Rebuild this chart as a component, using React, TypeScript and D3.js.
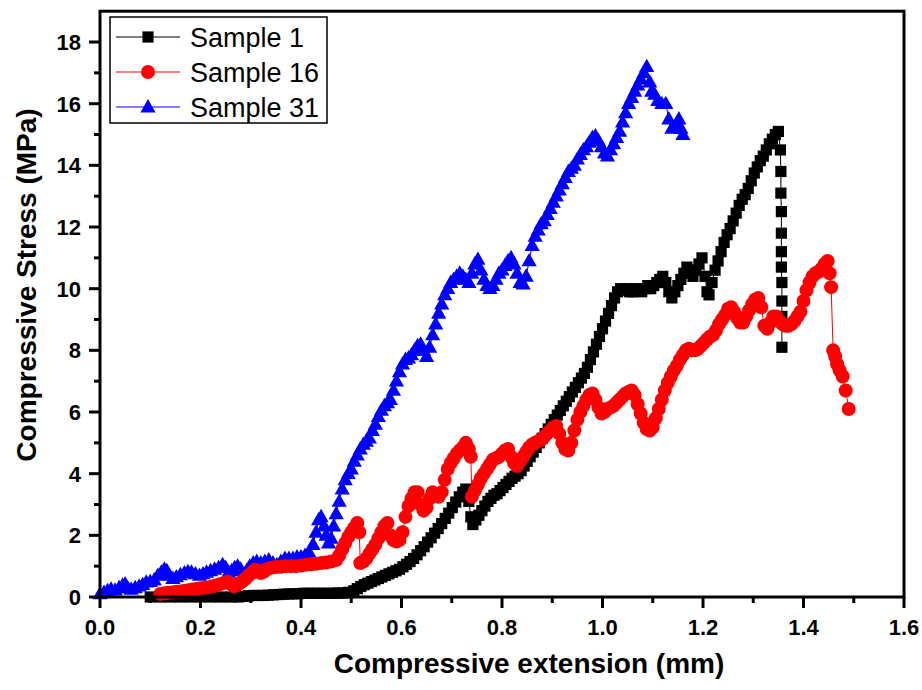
import React from "react";
import * as d3 from "d3";

const xTicks = [0, 0.2, 0.4, 0.6, 0.8, 1.0, 1.2, 1.4, 1.6];
const xMinor = [0.1, 0.3, 0.5, 0.7, 0.9, 1.1, 1.3, 1.5];
const yTicks = [0, 2, 4, 6, 8, 10, 12, 14, 16, 18];
const yMinor = [1, 3, 5, 7, 9, 11, 13, 15, 17];
const seriesNames = ["Sample 1", "Sample 16", "Sample 31"];

const sample1: [number, number][] = [
  [0.100, 0.00], [0.120, 0.00], [0.140, 0.00], [0.160, 0.00], [0.180, 0.00], [0.200, 0.00],
  [0.220, 0.00], [0.240, 0.00], [0.260, 0.00], [0.275, 0.00], [0.285, 0.02], [0.295, 0.04],
  [0.305, 0.05], [0.315, 0.05], [0.325, 0.05], [0.335, 0.06], [0.345, 0.07], [0.355, 0.08],
  [0.365, 0.09], [0.375, 0.10], [0.385, 0.10], [0.395, 0.11], [0.405, 0.12], [0.415, 0.12],
  [0.425, 0.12], [0.435, 0.12], [0.445, 0.12], [0.455, 0.12], [0.465, 0.12], [0.475, 0.13],
  [0.485, 0.13], [0.495, 0.15], [0.505, 0.20], [0.512, 0.27], [0.519, 0.34], [0.526, 0.40],
  [0.533, 0.45], [0.540, 0.50], [0.547, 0.55], [0.554, 0.60], [0.561, 0.65], [0.568, 0.70],
  [0.575, 0.75], [0.582, 0.80], [0.589, 0.85], [0.596, 0.90], [0.603, 0.98], [0.610, 1.06],
  [0.617, 1.15], [0.624, 1.25], [0.631, 1.37], [0.638, 1.50], [0.645, 1.63], [0.652, 1.78],
  [0.659, 1.92], [0.666, 2.07], [0.673, 2.22], [0.680, 2.38], [0.687, 2.55], [0.694, 2.72],
  [0.701, 2.90], [0.708, 3.08], [0.715, 3.25], [0.722, 3.40], [0.728, 3.50], [0.734, 3.10],
  [0.738, 2.60], [0.742, 2.35], [0.748, 2.50], [0.754, 2.65], [0.760, 2.80], [0.766, 2.95],
  [0.772, 3.10], [0.778, 3.20], [0.784, 3.30], [0.790, 3.35], [0.796, 3.45], [0.802, 3.55],
  [0.808, 3.65], [0.814, 3.75], [0.820, 3.85], [0.826, 3.92], [0.832, 4.00], [0.838, 4.10],
  [0.844, 4.25], [0.850, 4.40], [0.856, 4.55], [0.862, 4.70], [0.868, 4.85], [0.874, 5.00],
  [0.880, 5.15], [0.886, 5.30], [0.892, 5.45], [0.898, 5.60], [0.904, 5.75], [0.910, 5.90],
  [0.916, 6.05], [0.922, 6.20], [0.928, 6.35], [0.934, 6.50], [0.940, 6.65], [0.946, 6.80],
  [0.952, 6.95], [0.958, 7.10], [0.964, 7.25], [0.970, 7.45], [0.976, 7.70], [0.982, 7.95],
  [0.988, 8.20], [0.994, 8.45], [1.000, 8.70], [1.006, 8.95], [1.012, 9.20], [1.018, 9.45],
  [1.024, 9.70], [1.030, 9.90], [1.036, 10.00], [1.042, 9.95], [1.048, 10.00], [1.054, 9.90],
  [1.060, 9.90], [1.066, 10.00], [1.072, 10.00], [1.078, 9.90], [1.084, 10.00], [1.090, 10.10],
  [1.096, 10.00], [1.102, 10.10], [1.108, 10.20], [1.114, 10.30], [1.120, 10.40], [1.126, 10.20],
  [1.132, 9.90], [1.138, 9.70], [1.144, 9.90], [1.150, 10.10], [1.156, 10.30], [1.162, 10.50],
  [1.168, 10.70], [1.174, 10.60], [1.180, 10.40], [1.186, 10.60], [1.192, 10.80], [1.198, 11.00],
  [1.204, 10.40], [1.208, 9.90], [1.212, 9.80], [1.218, 10.20], [1.224, 10.60], [1.230, 10.90],
  [1.236, 11.20], [1.242, 11.50], [1.248, 11.75], [1.254, 11.95], [1.260, 12.20], [1.266, 12.45],
  [1.272, 12.70], [1.278, 12.90], [1.284, 13.05], [1.290, 13.25], [1.296, 13.50], [1.302, 13.75],
  [1.308, 13.95], [1.314, 14.15], [1.320, 14.30], [1.326, 14.50], [1.332, 14.70], [1.338, 14.85],
  [1.344, 15.00], [1.350, 15.10], [1.354, 14.50], [1.355, 13.80], [1.355, 13.10], [1.356, 12.50],
  [1.356, 11.80], [1.356, 11.20], [1.356, 10.70], [1.357, 10.20], [1.357, 9.60], [1.357, 9.10],
  [1.357, 8.10],
];

const sample16: [number, number][] = [
  [0.120, 0.10], [0.128, 0.12], [0.136, 0.14], [0.144, 0.15], [0.152, 0.17], [0.160, 0.18],
  [0.168, 0.20], [0.176, 0.22], [0.184, 0.24], [0.192, 0.26], [0.200, 0.28], [0.208, 0.30],
  [0.216, 0.32], [0.224, 0.35], [0.232, 0.38], [0.240, 0.42], [0.248, 0.46], [0.254, 0.50],
  [0.260, 0.42], [0.266, 0.35], [0.272, 0.38], [0.278, 0.45], [0.284, 0.52], [0.290, 0.60],
  [0.296, 0.70], [0.302, 0.78], [0.308, 0.88], [0.314, 0.85], [0.320, 0.78], [0.326, 0.82],
  [0.332, 0.90], [0.340, 0.95], [0.350, 0.97], [0.360, 0.98], [0.370, 1.00], [0.380, 1.00],
  [0.390, 1.00], [0.400, 1.02], [0.410, 1.05], [0.420, 1.06], [0.430, 1.08], [0.440, 1.10],
  [0.450, 1.12], [0.460, 1.15], [0.470, 1.20], [0.476, 1.35], [0.482, 1.55], [0.488, 1.75],
  [0.494, 1.95], [0.500, 2.10], [0.506, 2.25], [0.512, 2.40], [0.516, 2.10], [0.518, 1.10],
  [0.524, 1.15], [0.530, 1.25], [0.536, 1.40], [0.542, 1.55], [0.548, 1.70], [0.554, 1.90],
  [0.560, 2.10], [0.566, 2.30], [0.572, 2.40], [0.578, 2.00], [0.584, 1.85], [0.590, 1.80],
  [0.596, 1.85], [0.602, 2.10], [0.608, 2.60], [0.614, 2.95], [0.620, 3.20], [0.626, 3.40],
  [0.632, 3.40], [0.638, 3.00], [0.644, 2.80], [0.650, 2.90], [0.656, 3.20], [0.662, 3.40],
  [0.668, 3.35], [0.674, 3.25], [0.680, 3.40], [0.686, 3.80], [0.692, 4.15], [0.698, 4.35],
  [0.704, 4.50], [0.710, 4.65], [0.716, 4.75], [0.722, 4.85], [0.728, 5.00], [0.734, 4.80],
  [0.738, 4.55], [0.740, 3.25], [0.746, 3.45], [0.752, 3.65], [0.758, 3.85], [0.764, 4.00],
  [0.770, 4.15], [0.776, 4.30], [0.782, 4.45], [0.788, 4.50], [0.794, 4.55], [0.800, 4.65],
  [0.806, 4.75], [0.812, 4.80], [0.818, 4.55], [0.824, 4.35], [0.830, 4.25], [0.836, 4.40],
  [0.842, 4.55], [0.848, 4.70], [0.854, 4.85], [0.860, 4.95], [0.866, 5.00], [0.872, 5.05],
  [0.878, 5.10], [0.884, 5.20], [0.890, 5.30], [0.896, 5.40], [0.902, 5.50], [0.908, 5.55],
  [0.914, 5.30], [0.920, 5.00], [0.926, 4.80], [0.932, 4.75], [0.938, 5.00], [0.944, 5.40],
  [0.950, 5.75], [0.956, 6.00], [0.962, 6.20], [0.968, 6.40], [0.974, 6.55], [0.980, 6.60],
  [0.986, 6.40], [0.992, 6.15], [0.998, 5.95], [1.004, 6.00], [1.010, 6.10], [1.016, 6.15],
  [1.022, 6.20], [1.028, 6.30], [1.034, 6.40], [1.040, 6.50], [1.046, 6.60], [1.052, 6.65],
  [1.058, 6.70], [1.064, 6.55], [1.070, 6.25], [1.076, 5.95], [1.082, 5.65], [1.088, 5.45],
  [1.094, 5.40], [1.100, 5.50], [1.106, 5.80], [1.112, 6.10], [1.118, 6.40], [1.124, 6.70],
  [1.130, 6.95], [1.136, 7.15], [1.142, 7.35], [1.148, 7.50], [1.154, 7.70], [1.160, 7.85],
  [1.166, 8.00], [1.172, 8.05], [1.178, 8.00], [1.184, 8.00], [1.190, 8.05], [1.196, 8.15],
  [1.202, 8.25], [1.208, 8.35], [1.214, 8.45], [1.220, 8.50], [1.226, 8.65], [1.232, 8.85],
  [1.238, 9.00], [1.244, 9.15], [1.250, 9.35], [1.256, 9.40], [1.262, 9.25], [1.268, 9.05],
  [1.274, 8.90], [1.280, 8.90], [1.286, 9.10], [1.292, 9.30], [1.298, 9.50], [1.304, 9.65],
  [1.310, 9.70], [1.316, 9.40], [1.322, 8.80], [1.328, 8.70], [1.334, 8.90], [1.340, 9.10],
  [1.346, 9.10], [1.352, 8.95], [1.358, 8.85], [1.364, 8.80], [1.370, 8.80], [1.376, 8.85],
  [1.382, 8.95], [1.388, 9.10], [1.394, 9.25], [1.400, 9.60], [1.406, 9.95], [1.412, 10.20],
  [1.418, 10.40], [1.424, 10.50], [1.430, 10.55], [1.436, 10.65], [1.442, 10.80], [1.448, 10.90],
  [1.452, 10.50], [1.455, 10.05], [1.459, 8.00], [1.463, 7.80], [1.467, 7.55], [1.472, 7.35],
  [1.478, 7.15], [1.484, 6.70], [1.490, 6.10],
];

const sample31: [number, number][] = [
  [0.000, 0.10], [0.008, 0.15], [0.015, 0.20], [0.022, 0.25], [0.030, 0.22], [0.038, 0.30],
  [0.045, 0.38], [0.050, 0.42], [0.055, 0.30], [0.062, 0.25], [0.070, 0.30], [0.078, 0.35],
  [0.085, 0.40], [0.092, 0.48], [0.100, 0.50], [0.108, 0.55], [0.115, 0.70], [0.122, 0.80],
  [0.128, 0.90], [0.133, 0.85], [0.138, 0.70], [0.145, 0.60], [0.152, 0.65], [0.160, 0.72],
  [0.168, 0.78], [0.175, 0.82], [0.182, 0.80], [0.190, 0.75], [0.198, 0.70], [0.205, 0.75],
  [0.212, 0.80], [0.220, 0.85], [0.228, 0.90], [0.236, 0.95], [0.244, 1.05], [0.250, 0.95],
  [0.256, 0.80], [0.262, 0.85], [0.268, 0.95], [0.274, 1.00], [0.280, 0.90], [0.286, 0.75],
  [0.292, 0.85], [0.298, 1.00], [0.305, 1.10], [0.312, 1.15], [0.320, 1.10], [0.328, 1.15],
  [0.336, 1.20], [0.344, 1.10], [0.352, 1.05], [0.360, 1.15], [0.368, 1.25], [0.376, 1.25],
  [0.384, 1.25], [0.392, 1.30], [0.400, 1.30], [0.408, 1.35], [0.416, 1.45], [0.424, 1.70],
  [0.430, 2.10], [0.435, 2.50], [0.440, 2.60], [0.446, 2.30], [0.450, 2.00], [0.455, 1.75],
  [0.460, 1.90], [0.465, 2.30], [0.470, 2.70], [0.476, 3.10], [0.482, 3.50], [0.488, 3.80],
  [0.494, 4.00], [0.500, 4.15], [0.506, 4.40], [0.512, 4.60], [0.518, 4.80], [0.524, 4.95],
  [0.530, 5.05], [0.536, 5.15], [0.542, 5.40], [0.548, 5.60], [0.554, 5.85], [0.560, 6.05],
  [0.566, 6.20], [0.572, 6.30], [0.578, 6.40], [0.584, 6.70], [0.590, 7.00], [0.596, 7.30],
  [0.602, 7.55], [0.608, 7.70], [0.614, 7.75], [0.620, 7.85], [0.626, 8.00], [0.632, 8.15],
  [0.638, 8.20], [0.644, 8.00], [0.650, 7.80], [0.656, 8.10], [0.662, 8.50], [0.668, 8.85],
  [0.674, 9.20], [0.680, 9.50], [0.686, 9.80], [0.692, 10.00], [0.698, 10.20], [0.704, 10.30],
  [0.710, 10.40], [0.716, 10.50], [0.722, 10.40], [0.728, 10.30], [0.734, 10.20], [0.740, 10.50],
  [0.746, 10.80], [0.752, 10.95], [0.758, 10.60], [0.764, 10.30], [0.770, 10.10], [0.776, 10.00],
  [0.782, 10.10], [0.788, 10.30], [0.794, 10.50], [0.800, 10.60], [0.806, 10.75], [0.812, 10.90],
  [0.818, 11.00], [0.824, 10.80], [0.830, 10.50], [0.836, 10.20], [0.842, 10.15], [0.848, 10.40],
  [0.854, 10.90], [0.860, 11.40], [0.866, 11.70], [0.872, 11.90], [0.878, 12.10], [0.884, 12.20],
  [0.890, 12.40], [0.896, 12.60], [0.902, 12.80], [0.908, 13.00], [0.914, 13.20], [0.920, 13.40],
  [0.926, 13.60], [0.932, 13.80], [0.938, 13.90], [0.944, 14.00], [0.950, 14.20], [0.956, 14.35],
  [0.962, 14.50], [0.968, 14.60], [0.974, 14.75], [0.980, 14.90], [0.986, 14.95], [0.992, 14.80],
  [0.998, 14.60], [1.004, 14.40], [1.010, 14.30], [1.016, 14.50], [1.022, 14.70], [1.028, 14.90],
  [1.034, 15.10], [1.040, 15.40], [1.046, 15.70], [1.052, 16.00], [1.058, 16.20], [1.064, 16.40],
  [1.070, 16.60], [1.076, 16.80], [1.082, 17.00], [1.088, 17.20], [1.094, 16.70], [1.098, 16.40],
  [1.104, 16.30], [1.110, 16.10], [1.118, 16.00], [1.126, 16.00], [1.132, 15.50], [1.138, 15.20],
  [1.146, 15.30], [1.152, 15.50], [1.156, 15.20], [1.160, 15.00],
];

const FONT = "'Liberation Sans', Arial, Helvetica, sans-serif";

const x = d3.scaleLinear().domain([0, 1.6]).range([100, 904]);
const y = d3.scaleLinear().domain([0, 19]).range([597, 11.2]);

const lineGen = d3
  .line<[number, number]>()
  .x((d) => x(d[0]))
  .y((d) => y(d[1]));

const triPath = "M0,-8L7.6,5.4L-7.6,5.4Z";

function Marker({ kind, color }: { kind: string; color: string }) {
  if (kind === "square") return <rect x={-5.6} y={-5.6} width={11.2} height={11.2} fill={color} />;
  if (kind === "circle") return <circle r={7} fill={color} />;
  return <path d={triPath} fill={color} />;
}

const series = [
  { name: seriesNames[0], data: sample1, color: "#000000", kind: "square" },
  { name: seriesNames[1], data: sample16, color: "#ff0000", kind: "circle" },
  { name: seriesNames[2], data: sample31, color: "#0000ff", kind: "triangle" },
];
const drawOrder = [0, 2, 1];

export default function App() {
  const x0 = x(0);
  const x1 = x(1.6);
  const yb = y(0);
  const yt = y(19);
  return (
    <svg
      width={922}
      height={690}
      style={{ position: "absolute", left: 0, top: 0, background: "#fff" }}
      fontFamily={FONT}
    >
      <rect x={0} y={0} width={922} height={690} fill="#fff" />
      {drawOrder.map((i) => {
        const s = series[i];
        return (
          <g key={s.name}>
            <path d={lineGen(s.data) || ""} fill="none" stroke={s.color} strokeWidth={1} />
            {s.data.map((d, j) => (
              <g key={j} transform={`translate(${x(d[0])},${y(d[1])})`}>
                <Marker kind={s.kind} color={s.color} />
              </g>
            ))}
          </g>
        );
      })}
      {/* frame */}
      <rect x={x0} y={yt} width={x1 - x0} height={yb - yt} fill="none" stroke="#000" strokeWidth={3} />
      {/* x ticks */}
      {xTicks.map((t) => (
        <g key={"xt" + t}>
          <line x1={x(t)} x2={x(t)} y1={yb} y2={yb + 11} stroke="#000" strokeWidth={3} />
          <text x={x(t)} y={635} textAnchor="middle" fontSize={22} fontWeight="bold">
            {t.toFixed(1)}
          </text>
        </g>
      ))}
      {xMinor.map((t) => (
        <line key={"xm" + t} x1={x(t)} x2={x(t)} y1={yb} y2={yb + 6} stroke="#000" strokeWidth={3} />
      ))}
      {yTicks.map((t) => (
        <g key={"yt" + t}>
          <line x1={x0 - 11} x2={x0} y1={y(t)} y2={y(t)} stroke="#000" strokeWidth={3} />
          <text x={81} y={y(t) + 8} textAnchor="end" fontSize={22} fontWeight="bold">
            {t}
          </text>
        </g>
      ))}
      {yMinor.map((t) => (
        <line key={"ym" + t} x1={x0 - 6} x2={x0} y1={y(t)} y2={y(t)} stroke="#000" strokeWidth={3} />
      ))}
      {/* axis titles */}
      <text x={529} y={673} textAnchor="middle" fontSize={28} fontWeight="bold">
        Compressive extension (mm)
      </text>
      <text
        transform={`translate(36,${285}) rotate(-90)`}
        textAnchor="middle"
        fontSize={28}
        fontWeight="bold"
      >
        Compressive Stress (MPa)
      </text>
      {/* legend */}
      <rect x={110} y={17} width={217} height={106} fill="#fff" stroke="#000" strokeWidth={1.5} />
      {series.map((s, i) => {
        const ly = 37 + i * 35;
        return (
          <g key={"lg" + s.name}>
            <line x1={116} x2={180} y1={ly} y2={ly} stroke={s.color} strokeWidth={1} />
            <g transform={`translate(148,${ly})`}>
              <Marker kind={s.kind} color={s.color} />
            </g>
            <text x={190} y={ly + 10} fontSize={27}>
              {s.name}
            </text>
          </g>
        );
      })}
    </svg>
  );
}
